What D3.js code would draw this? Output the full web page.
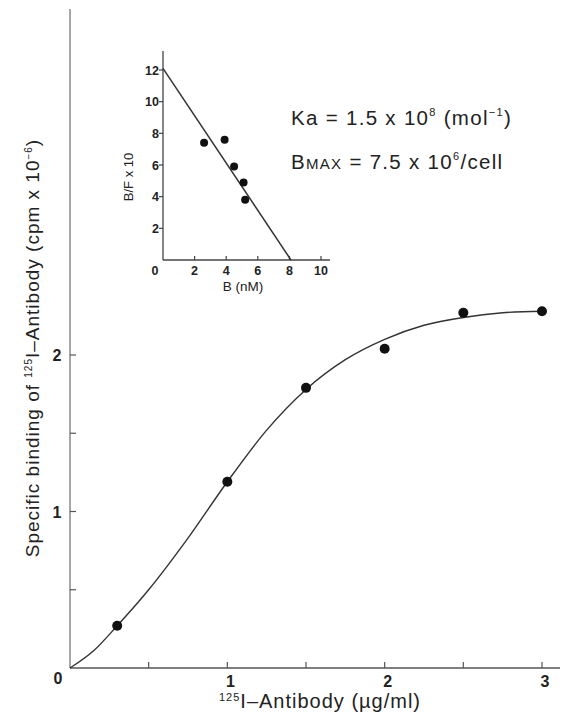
<!DOCTYPE html>
<html>
<head>
<meta charset="utf-8">
<script src="https://cdn.jsdelivr.net/npm/d3@7"></script>
<style>
  body { margin: 0; background: #fff; }
  text { font-family: "Liberation Sans", Arial, sans-serif; fill: #222; }
</style>
</head>
<body>
<script>
// main binding data
const doseX = [0.3, 1.0, 1.5, 2.0, 2.5, 3.0];
const boundY = [0.27, 1.19, 1.79, 2.04, 2.27, 2.28];
// fitted curve
const fitX = [0, 0.15, 0.3, 0.5, 0.75, 1.0, 1.25, 1.5, 1.75, 2.0, 2.25, 2.5, 2.75, 3.0];
const fitY = [0, 0.11, 0.27, 0.5, 0.83, 1.19, 1.52, 1.78, 1.97, 2.1, 2.19, 2.24, 2.27, 2.28];
const mainXTicks = [0.5, 1, 1.5, 2, 2.5, 3];
const mainYTicks = [0.5, 1, 1.5, 2];
const mainXLabels = [1, 2, 3];
const mainYLabels = [1, 2];

// Scatchard inset
const insetB = [2.6, 3.9, 4.5, 5.1, 5.2];
const insetBF = [7.4, 7.6, 5.9, 4.9, 3.8];
const lineB = [0, 8.1];
const lineBF = [12.1, 0];
const insetTicks = [2, 4, 6, 8, 10];
const insetYTicks = [2, 4, 6, 8, 10, 12];

const svg = d3.select("body").append("svg")
  .attr("width", 566).attr("height", 721);

const x = d3.scaleLinear().domain([0, 3]).range([70, 542]);
const y = d3.scaleLinear().domain([0, 2]).range([668, 355]);

// axes lines
svg.append("line").attr("x1", 70).attr("x2", 70).attr("y1", y(0)).attr("y2", 9)
  .attr("stroke", "#777").attr("stroke-width", 1.3);
svg.append("line").attr("x1", 70).attr("x2", 560).attr("y1", y(0)).attr("y2", y(0))
  .attr("stroke", "#555").attr("stroke-width", 1.3);

// inward ticks
svg.selectAll(".xt").data(mainXTicks).join("line")
  .attr("x1", d => x(d)).attr("x2", d => x(d))
  .attr("y1", y(0)).attr("y2", y(0) - 6)
  .attr("stroke", "#555").attr("stroke-width", 1.2);
svg.selectAll(".yt").data(mainYTicks).join("line")
  .attr("x1", 70).attr("x2", 76)
  .attr("y1", d => y(d)).attr("y2", d => y(d))
  .attr("stroke", "#555").attr("stroke-width", 1.2);

svg.selectAll(".xl").data(mainXLabels).join("text")
  .attr("x", d => x(d) + 3).attr("y", 687)
  .attr("text-anchor", "middle").attr("font-size", 16).attr("font-weight", "bold")
  .text(d => d);
svg.selectAll(".yl").data(mainYLabels).join("text")
  .attr("x", 57).attr("y", d => y(d) + 6)
  .attr("text-anchor", "middle").attr("font-size", 16).attr("font-weight", "bold")
  .text(d => d);
svg.append("text").attr("x", 58).attr("y", 684)
  .attr("text-anchor", "middle").attr("font-size", 16).attr("font-weight", "bold").text("0");

// x axis title
const xt = svg.append("text").attr("x", 320).attr("y", 708)
  .attr("text-anchor", "middle").attr("font-size", 20).attr("letter-spacing", 1);
xt.append("tspan").attr("font-size", 11).attr("dy", -7).text("125");
xt.append("tspan").attr("dy", 7).text("I\u2013Antibody (\u00b5g/ml)");

// y axis title
const yt = svg.append("text")
  .attr("transform", "translate(39,348) rotate(-90)")
  .attr("text-anchor", "middle").attr("font-size", 19).attr("letter-spacing", 1);
yt.append("tspan").text("Specific binding of ");
yt.append("tspan").attr("font-size", 10).attr("dy", -7).text("125");
yt.append("tspan").attr("dy", 7).text("I\u2013Antibody (cpm x 10");
yt.append("tspan").attr("font-size", 10).attr("dy", -7).text("\u22126");
yt.append("tspan").attr("dy", 7).text(")");

// fitted curve
const fit = fitX.map((d, i) => [d, fitY[i]]);
svg.append("path").datum(fit)
  .attr("fill", "none").attr("stroke", "#333").attr("stroke-width", 1.4)
  .attr("d", d3.line().x(d => x(d[0])).y(d => y(d[1])).curve(d3.curveMonotoneX));

svg.selectAll(".pt").data(doseX).join("circle")
  .attr("cx", d => x(d)).attr("cy", (d, i) => y(boundY[i]))
  .attr("r", 5).attr("fill", "#111");

// inset
const ix = d3.scaleLinear().domain([0, 10]).range([163, 321]);
const iy = d3.scaleLinear().domain([0, 12]).range([260, 70]);

svg.append("line").attr("x1", ix(0)).attr("x2", ix(0)).attr("y1", iy(0)).attr("y2", 51)
  .attr("stroke", "#444").attr("stroke-width", 1.3);
svg.append("line").attr("x1", ix(0)).attr("x2", 330).attr("y1", iy(0)).attr("y2", iy(0))
  .attr("stroke", "#444").attr("stroke-width", 1.3);
svg.selectAll(".ixt").data(insetTicks).join("line")
  .attr("x1", d => ix(d)).attr("x2", d => ix(d))
  .attr("y1", iy(0)).attr("y2", iy(0) - 4)
  .attr("stroke", "#444").attr("stroke-width", 1.2);
svg.selectAll(".iyt").data(insetYTicks).join("line")
  .attr("x1", ix(0) - 4).attr("x2", ix(0))
  .attr("y1", d => iy(d)).attr("y2", d => iy(d))
  .attr("stroke", "#444").attr("stroke-width", 1.2);
svg.selectAll(".ixl").data(insetTicks).join("text")
  .attr("x", d => ix(d)).attr("y", 275)
  .attr("text-anchor", "middle").attr("font-size", 12.5).attr("font-weight", "bold")
  .text(d => d);
svg.selectAll(".iyl").data(insetYTicks).join("text")
  .attr("x", ix(0) - 4).attr("y", d => iy(d) + 4.5)
  .attr("text-anchor", "end").attr("font-size", 12.5).attr("font-weight", "bold")
  .text(d => d);
svg.append("text").attr("x", 155).attr("y", 275)
  .attr("text-anchor", "middle").attr("font-size", 12.5).attr("font-weight", "bold").text("0");
svg.append("text").attr("x", 243).attr("y", 291)
  .attr("text-anchor", "middle").attr("font-size", 13.5).text("B (nM)");
svg.append("text").attr("transform", "translate(133,177) rotate(-90)")
  .attr("text-anchor", "middle").attr("font-size", 13).text("B/F x 10");

svg.append("path").datum(lineB.map((d, i) => [d, lineBF[i]]))
  .attr("fill", "none").attr("stroke", "#333").attr("stroke-width", 1.5)
  .attr("d", d3.line().x(d => ix(d[0])).y(d => iy(d[1])));
svg.selectAll(".ipt").data(insetB).join("circle")
  .attr("cx", d => ix(d)).attr("cy", (d, i) => iy(insetBF[i]))
  .attr("r", 4).attr("fill", "#111");

// constants
const ka = svg.append("text").attr("x", 291).attr("y", 125)
  .attr("font-size", 20.5).attr("letter-spacing", 1.3);
ka.append("tspan").text("Ka = 1.5 x 10");
ka.append("tspan").attr("font-size", 11).attr("dy", -9).text("8");
ka.append("tspan").attr("dy", 9).text(" (mol");
ka.append("tspan").attr("font-size", 11).attr("dy", -9).text("\u22121");
ka.append("tspan").attr("dy", 9).text(")");

const bm = svg.append("text").attr("x", 291).attr("y", 169)
  .attr("font-size", 20.5).attr("letter-spacing", 1.3);
bm.append("tspan").text("B");
bm.append("tspan").attr("font-size", 15).text("MAX");
bm.append("tspan").text(" = 7.5 x 10");
bm.append("tspan").attr("font-size", 11).attr("dy", -9).text("6");
bm.append("tspan").attr("dy", 9).text("/cell");
</script>
</body>
</html>
